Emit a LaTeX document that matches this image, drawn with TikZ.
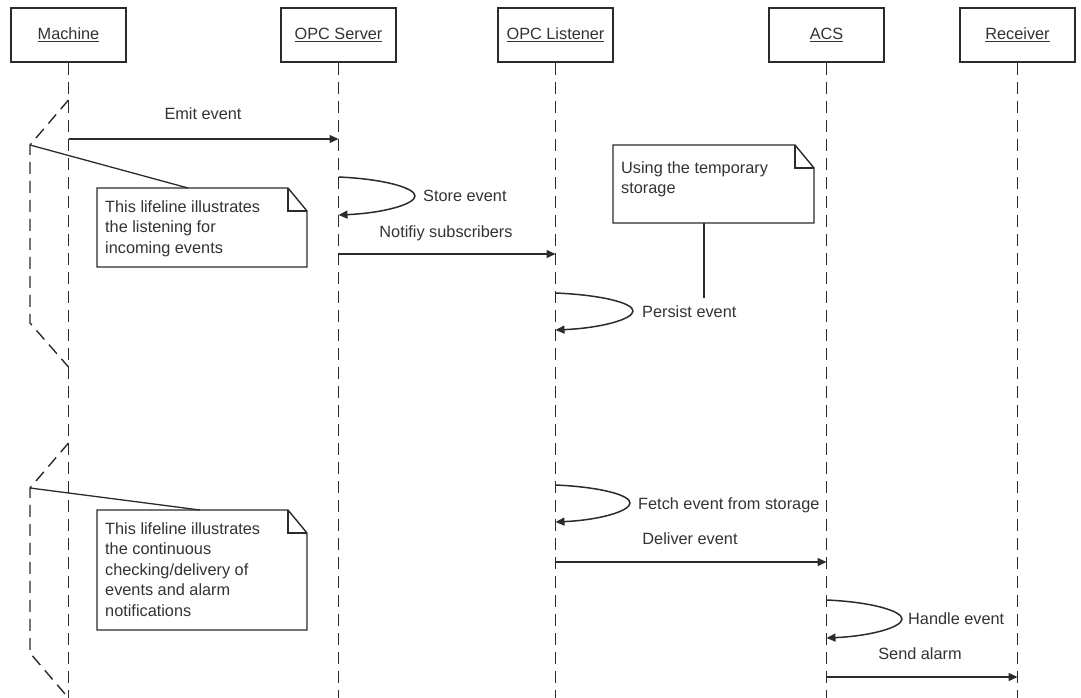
\documentclass[tikz,border=0pt]{standalone}
\usepackage{fontspec}
\setmainfont{Liberation Sans}
\usetikzlibrary{arrows.meta}

\definecolor{ink}{HTML}{2B2B2B}
\definecolor{txt}{HTML}{333333}

\tikzset{
  every node/.style={font=\fontsize{16.3}{20.5}\selectfont, text=txt},
  head/.style={draw=ink, line width=1.5pt, minimum width=115pt, minimum height=54pt, inner sep=0pt, fill=white},
  life/.style={draw=ink, line width=1.4pt, dash pattern=on 12pt off 7pt},
  msg/.style={draw=ink, line width=1.5pt, -{Triangle[length=9pt,width=8pt]}},
  lbl/.style={anchor=base, inner sep=0pt},
  lbll/.style={anchor=base west, inner sep=0pt},
  notebody/.style={draw=ink, line width=1.4pt, fill=white},
  notetxt/.style={anchor=north west, align=left, inner sep=0pt},
  link/.style={draw=ink, line width=1.3pt},
}

% self call: start, tip, end
\newcommand{\selfcall}[3]{%
  \path (#1) coordinate (sc-a) (#2) coordinate (sc-t) (#3) coordinate (sc-b);
  \draw[msg] (sc-a) .. controls ($(sc-a)!0.6!(sc-t |- sc-a)+(0,2)$) and ($(sc-t)+(0,-8)$) .. (sc-t)
             .. controls ($(sc-t)+(0,8)$) and ($(sc-b)!0.6!(sc-t |- sc-b)+(0,-2)$) .. (sc-b);
}
\usetikzlibrary{calc}

\begin{document}
\begin{tikzpicture}[x=1pt, y=-1pt]
\useasboundingbox (0,0) rectangle (1081,698);

% ---------- lifeline heads ----------
\node[head] (machine)  at (68.5,35)  {\underline{Machine}};
\node[head] (server)   at (338.5,35) {\underline{OPC Server}};
\node[head] (listener) at (555.5,35) {\underline{OPC Listener}};
\node[head] (acs)      at (826.5,35) {\underline{ACS}};
\node[head] (receiver) at (1017.5,35)  {\underline{Receiver}};

% ---------- lifelines ----------
\foreach \h in {machine,server,listener,acs,receiver}{
  \coordinate (\h-end) at (\h.south |- 0,698);
  \draw[life] (\h.south) -- (\h-end);
}

% ---------- machine activity outlines (dashed) ----------
\coordinate (a1) at (68.5,100);  \coordinate (a2) at (30,145);
\coordinate (a3) at (30,323);  \coordinate (a4) at (68.5,367);
\draw[life] (a1) -- (a2) -- (a3) -- (a4);
\coordinate (b1) at (68.5,443);  \coordinate (b2) at (30,488);
\coordinate (b3) at (30,653);  \coordinate (b4) at (68.5,698);
\draw[life] (b1) -- (b2) -- (b3) -- (b4);

% ---------- note shapes ----------
\newcommand{\notebox}[5]{% name, x1, y1, x2, y2
  \coordinate (#1-nw) at (#2,#3);
  \coordinate (#1-se) at (#4,#5);
  \draw[notebody] (#2,#3) -- (#4-19,#3) -- (#4,#3+23) -- (#4,#5) -- (#2,#5) -- cycle;
  \draw[link] (#4-19,#3) |- (#4,#3+23);
}

\notebox{n1}{97}{188}{307}{267}
\node[notetxt] (n1t) at (105,200) {This lifeline illustrates\\the listening for\\incoming events};
\coordinate (n1a) at (188,188);
\draw[link] (a2) -- (n1a);

\notebox{n2}{97}{510}{307}{630}
\node[notetxt] (n2t) at (105,522) {This lifeline illustrates\\the continuous\\checking/delivery of\\events and alarm\\notifications};
\coordinate (n2a) at (200,510);
\draw[link] (b2) -- (n2a);

\notebox{n3}{613}{145}{814}{223}
\node[notetxt] (n3t) at (621,161) {Using the temporary\\storage};
\coordinate (n3a) at (704,223);
\coordinate (n3b) at (704,298);
\draw[link] (n3a) -- (n3b);

% ---------- messages ----------
% Emit event
\coordinate (m1s) at (machine |- 0,139);
\coordinate (m1e) at (server |- 0,139);
\draw[msg] (m1s) -- (m1e);
\node[lbl] (m1l) at (203,120) {Emit event};

% Store event (self call)
\coordinate (s1s) at (server |- 0,177);
\coordinate (s1t) at (415,196);
\coordinate (s1e) at (server |- 0,215);
\selfcall{s1s}{s1t}{s1e}
\node[lbll] (s1l) at (423,201) {Store event};

% Notify subscribers
\coordinate (m2s) at (server |- 0,254);
\coordinate (m2e) at (listener |- 0,254);
\draw[msg] (m2s) -- (m2e);
\node[lbl] (m2l) at (446,237) {Notifiy subscribers};

% Persist event (self call)
\coordinate (s2s) at (listener |- 0,293);
\coordinate (s2t) at (633,311);
\coordinate (s2e) at (listener |- 0,330);
\selfcall{s2s}{s2t}{s2e}
\node[lbll] (s2l) at (642,317) {Persist event};

% Fetch event from storage (self call)
\coordinate (s3s) at (listener |- 0,485);
\coordinate (s3t) at (630,503);
\coordinate (s3e) at (listener |- 0,522);
\selfcall{s3s}{s3t}{s3e}
\node[lbll] (s3l) at (638,509) {Fetch event from storage};

% Deliver event
\coordinate (m3s) at (listener |- 0,562);
\coordinate (m3e) at (acs |- 0,562);
\draw[msg] (m3s) -- (m3e);
\node[lbl] (m3l) at (690,544) {Deliver event};

% Handle event (self call)
\coordinate (s4s) at (acs |- 0,600);
\coordinate (s4t) at (902,619);
\coordinate (s4e) at (acs |- 0,638);
\selfcall{s4s}{s4t}{s4e}
\node[lbll] (s4l) at (908,624) {Handle event};

% Send alarm
\coordinate (m4s) at (acs |- 0,677);
\coordinate (m4e) at (receiver |- 0,677);
\draw[msg] (m4s) -- (m4e);
\node[lbl] (m4l) at (920,659) {Send alarm};

\end{tikzpicture}
\end{document}
